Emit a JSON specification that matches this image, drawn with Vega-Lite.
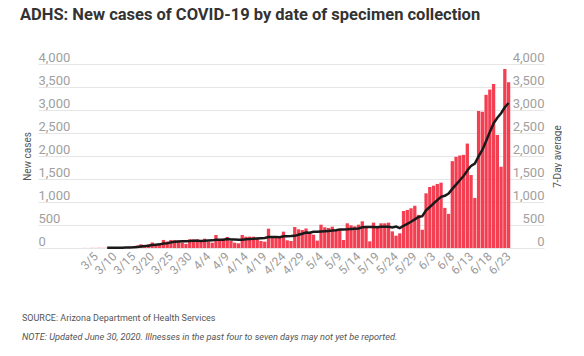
{
  "$schema": "https://vega.github.io/schema/vega-lite/v6.json",
  "padding": {"left": 20, "top": 6, "right": 0, "bottom": 0},
  "background": "white",
  "config": {"view": {"stroke": null}, "font": "Roboto"},
  "title": {"text": "ADHS: New cases of COVID-19 by date of specimen collection", "anchor": "start", "font": "Roboto", "fontSize": 16.5, "fontWeight": "bold", "color": "#333333", "offset": 28, "dx": -2},
  "vconcat": [
    {
      "width": 506,
      "height": 184,
      "title": {"text": "SOURCE: Arizona Department of Health Services", "subtitle": "NOTE: Updated June 30, 2020. Illnesses in the past four to seven days may not yet be reported.", "orient": "bottom", "anchor": "start", "font": "Roboto", "fontSize": 9, "fontWeight": "normal", "color": "#555555", "subtitleFont": "Roboto", "subtitleFontSize": 9.2, "subtitleFontStyle": "italic", "subtitleColor": "#555555", "offset": 38, "subtitlePadding": 10},
      "data": {"values": [
        {"date": "3/2", "cases": 2},
        {"date": "3/3", "cases": 1},
        {"date": "3/4", "cases": 3},
        {"date": "3/5", "cases": 2},
        {"date": "3/6", "cases": 4},
        {"date": "3/7", "cases": 3},
        {"date": "3/8", "cases": 5, "avg": 3},
        {"date": "3/9", "cases": 6, "avg": 3},
        {"date": "3/10", "cases": 8, "avg": 4},
        {"date": "3/11", "cases": 12, "avg": 6},
        {"date": "3/12", "cases": 14, "avg": 7},
        {"date": "3/13", "cases": 20, "avg": 10},
        {"date": "3/14", "cases": 25, "avg": 13},
        {"date": "3/15", "cases": 35, "avg": 17},
        {"date": "3/16", "cases": 55, "avg": 24},
        {"date": "3/17", "cases": 80, "avg": 34},
        {"date": "3/18", "cases": 55, "avg": 41},
        {"date": "3/19", "cases": 80, "avg": 50},
        {"date": "3/20", "cases": 120, "avg": 64},
        {"date": "3/21", "cases": 85, "avg": 73},
        {"date": "3/22", "cases": 80, "avg": 79},
        {"date": "3/23", "cases": 175, "avg": 96},
        {"date": "3/24", "cases": 140, "avg": 105},
        {"date": "3/25", "cases": 175, "avg": 122},
        {"date": "3/26", "cases": 170, "avg": 135},
        {"date": "3/27", "cases": 165, "avg": 141},
        {"date": "3/28", "cases": 120, "avg": 146},
        {"date": "3/29", "cases": 90, "avg": 148},
        {"date": "3/30", "cases": 190, "avg": 150},
        {"date": "3/31", "cases": 185, "avg": 156},
        {"date": "4/1", "cases": 190, "avg": 159},
        {"date": "4/2", "cases": 138, "avg": 154},
        {"date": "4/3", "cases": 203, "avg": 159},
        {"date": "4/4", "cases": 138, "avg": 162},
        {"date": "4/5", "cases": 116, "avg": 166},
        {"date": "4/6", "cases": 283, "avg": 179},
        {"date": "4/7", "cases": 174, "avg": 177},
        {"date": "4/8", "cases": 203, "avg": 179},
        {"date": "4/9", "cases": 239, "avg": 194},
        {"date": "4/10", "cases": 152, "avg": 186},
        {"date": "4/11", "cases": 116, "avg": 183},
        {"date": "4/12", "cases": 101, "avg": 181},
        {"date": "4/13", "cases": 283, "avg": 181},
        {"date": "4/14", "cases": 246, "avg": 191},
        {"date": "4/15", "cases": 246, "avg": 198},
        {"date": "4/16", "cases": 246, "avg": 199},
        {"date": "4/17", "cases": 225, "avg": 209},
        {"date": "4/18", "cases": 152, "avg": 214},
        {"date": "4/19", "cases": 138, "avg": 219},
        {"date": "4/20", "cases": 420, "avg": 239},
        {"date": "4/21", "cases": 239, "avg": 238},
        {"date": "4/22", "cases": 239, "avg": 237},
        {"date": "4/23", "cases": 239, "avg": 236},
        {"date": "4/24", "cases": 355, "avg": 255},
        {"date": "4/25", "cases": 167, "avg": 257},
        {"date": "4/26", "cases": 152, "avg": 259},
        {"date": "4/27", "cases": 457, "avg": 264},
        {"date": "4/28", "cases": 406, "avg": 288},
        {"date": "4/29", "cases": 391, "avg": 310},
        {"date": "4/30", "cases": 424, "avg": 336},
        {"date": "5/1", "cases": 340, "avg": 334},
        {"date": "5/2", "cases": 290, "avg": 351},
        {"date": "5/3", "cases": 160, "avg": 353},
        {"date": "5/4", "cases": 507, "avg": 360},
        {"date": "5/5", "cases": 450, "avg": 366},
        {"date": "5/6", "cases": 435, "avg": 372},
        {"date": "5/7", "cases": 464, "avg": 378},
        {"date": "5/8", "cases": 406, "avg": 387},
        {"date": "5/9", "cases": 392, "avg": 402},
        {"date": "5/10", "cases": 174, "avg": 404},
        {"date": "5/11", "cases": 537, "avg": 408},
        {"date": "5/12", "cases": 493, "avg": 414},
        {"date": "5/13", "cases": 471, "avg": 420},
        {"date": "5/14", "cases": 507, "avg": 426},
        {"date": "5/15", "cases": 580, "avg": 451},
        {"date": "5/16", "cases": 450, "avg": 459},
        {"date": "5/17", "cases": 145, "avg": 455},
        {"date": "5/18", "cases": 551, "avg": 457},
        {"date": "5/19", "cases": 450, "avg": 451},
        {"date": "5/20", "cases": 537, "avg": 460},
        {"date": "5/21", "cases": 537, "avg": 464},
        {"date": "5/22", "cases": 551, "avg": 460},
        {"date": "5/23", "cases": 362, "avg": 448},
        {"date": "5/24", "cases": 268, "avg": 465},
        {"date": "5/25", "cases": 319, "avg": 432},
        {"date": "5/26", "cases": 805, "avg": 483},
        {"date": "5/27", "cases": 828, "avg": 524},
        {"date": "5/28", "cases": 864, "avg": 571},
        {"date": "5/29", "cases": 918, "avg": 623},
        {"date": "5/30", "cases": 720, "avg": 675},
        {"date": "5/31", "cases": 396, "avg": 693},
        {"date": "6/1", "cases": 1189, "avg": 817},
        {"date": "6/2", "cases": 1326, "avg": 892},
        {"date": "6/3", "cases": 1355, "avg": 967},
        {"date": "6/4", "cases": 1391, "avg": 1042},
        {"date": "6/5", "cases": 1420, "avg": 1114},
        {"date": "6/6", "cases": 872, "avg": 1136},
        {"date": "6/7", "cases": 742, "avg": 1185},
        {"date": "6/8", "cases": 1888, "avg": 1285},
        {"date": "6/9", "cases": 1982, "avg": 1379},
        {"date": "6/10", "cases": 2011, "avg": 1472},
        {"date": "6/11", "cases": 2025, "avg": 1563},
        {"date": "6/12", "cases": 2270, "avg": 1684},
        {"date": "6/13", "cases": 1586, "avg": 1786},
        {"date": "6/14", "cases": 1088, "avg": 1836},
        {"date": "6/15", "cases": 2976, "avg": 1991},
        {"date": "6/16", "cases": 2962, "avg": 2131},
        {"date": "6/17", "cases": 3330, "avg": 2320},
        {"date": "6/18", "cases": 3445, "avg": 2522},
        {"date": "6/19", "cases": 3567, "avg": 2708},
        {"date": "6/20", "cases": 2458, "avg": 2832},
        {"date": "6/21", "cases": 1766, "avg": 2929},
        {"date": "6/22", "cases": 3892, "avg": 3060},
        {"date": "6/23", "cases": 3604, "avg": 3152}
      ]},
      "encoding": {
        "x": {
          "field": "date",
          "type": "ordinal",
          "sort": null,
          "title": null,
          "scale": {
            "type": "band",
            "paddingInner": 0.12,
            "paddingOuter": 0,
            "domain": ["2/19","2/20","2/21","2/22","2/23","2/24","2/25","2/26","2/27","2/28","2/29","3/1",
              "3/2","3/3","3/4","3/5","3/6","3/7","3/8","3/9","3/10","3/11","3/12","3/13","3/14","3/15","3/16","3/17","3/18","3/19","3/20","3/21","3/22","3/23","3/24","3/25","3/26","3/27","3/28","3/29","3/30","3/31",
              "4/1","4/2","4/3","4/4","4/5","4/6","4/7","4/8","4/9","4/10","4/11","4/12","4/13","4/14","4/15","4/16","4/17","4/18","4/19","4/20","4/21","4/22","4/23","4/24","4/25","4/26","4/27","4/28","4/29","4/30",
              "5/1","5/2","5/3","5/4","5/5","5/6","5/7","5/8","5/9","5/10","5/11","5/12","5/13","5/14","5/15","5/16","5/17","5/18","5/19","5/20","5/21","5/22","5/23","5/24","5/25","5/26","5/27","5/28","5/29","5/30","5/31",
              "6/1","6/2","6/3","6/4","6/5","6/6","6/7","6/8","6/9","6/10","6/11","6/12","6/13","6/14","6/15","6/16","6/17","6/18","6/19","6/20","6/21","6/22","6/23",
              "6/24","6/25","6/26","6/27","6/28","6/29","6/30","7/1","7/2"]
          },
          "axis": {
            "values": ["3/5","3/10","3/15","3/20","3/25","3/30","4/4","4/9","4/14","4/19","4/24","4/29","5/4","5/9","5/14","5/19","5/24","5/29","6/3","6/8","6/13","6/18","6/23"],
            "labelAngle": -45,
            "labelAlign": "right",
            "labelBaseline": "middle",
            "labelPadding": 6,
            "labelFontSize": 12,
            "labelColor": "#9a9a9a",
            "labelFont": "Roboto",
            "ticks": false,
            "tickSize": 0,
            "domain": false,
            "grid": false
          }
        }
      },
      "layer": [
        {
          "mark": {"type": "bar", "color": "#f43f52"},
          "encoding": {
            "y": {
              "field": "cases",
              "type": "quantitative",
              "scale": {"domain": [0, 4000], "nice": false},
              "axis": {
                "orient": "left",
                "title": "New cases",
                "titleFont": "Roboto",
                "titleFontSize": 10,
                "titleFontWeight": "normal",
                "titleColor": "#555555",
                "titlePadding": 6,
                "values": [0, 500, 1000, 1500, 2000, 2500, 3000, 3500, 4000],
                "format": ",d",
                "domain": false,
                "ticks": false,
                "tickSize": 0,
                "labelAlign": "left",
                "labelBaseline": "alphabetic",
                "labelPadding": 0,
                "labelOffset": -3,
                "labelFontSize": 13,
                "labelColor": "#a0a0a0",
                "labelFont": "Roboto",
                "grid": true,
                "gridColor": "#e6e6e6",
                "gridWidth": 1
              }
            }
          }
        },
        {
          "mark": {"type": "line", "color": "#1a1a1a", "strokeWidth": 2.5},
          "encoding": {
            "y": {
              "field": "avg",
              "type": "quantitative",
              "scale": {"domain": [0, 4000], "nice": false},
              "axis": {
                "orient": "right",
                "title": "7-Day average",
                "titleFont": "Roboto",
                "titleFontSize": 10,
                "titleFontWeight": "normal",
                "titleColor": "#555555",
                "titleAngle": -90,
                "titleBaseline": "top",
                "titlePadding": 8,
                "values": [0, 500, 1000, 1500, 2000, 2500, 3000, 3500, 4000],
                "format": ",d",
                "domain": false,
                "ticks": false,
                "tickSize": 0,
                "labelAlign": "right",
                "labelBaseline": "alphabetic",
                "labelPadding": 0,
                "labelOffset": -3,
                "labelFontSize": 13,
                "labelColor": "#a0a0a0",
                "labelFont": "Roboto",
                "grid": false
              }
            }
          }
        }
      ],
      "resolve": {"scale": {"y": "independent"}}
    }
  ]
}
